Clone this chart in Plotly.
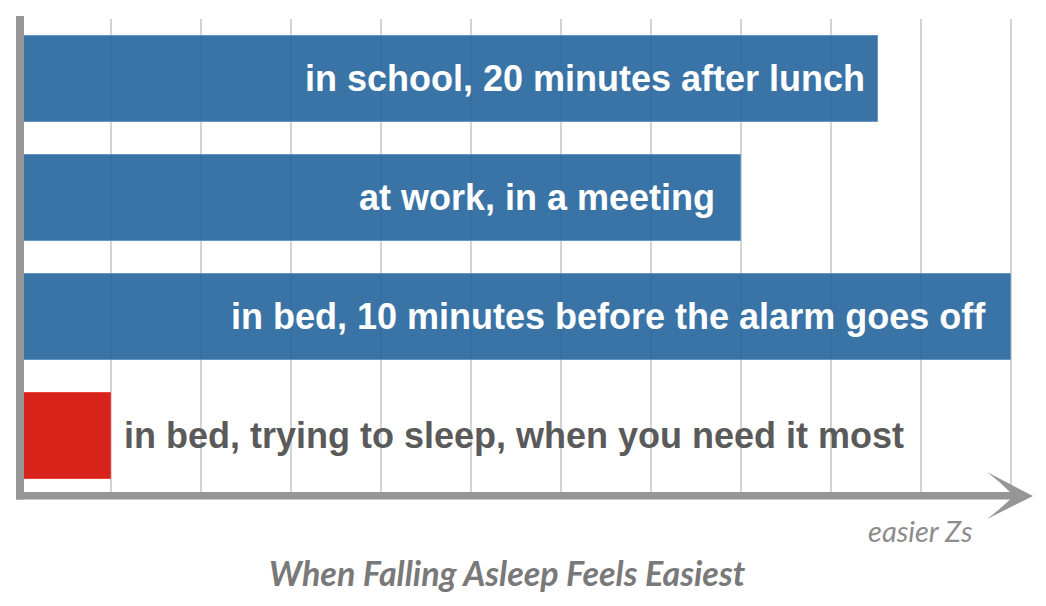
import plotly.graph_objects as go

# ---- data ----
labels = [
    "in school, 20 minutes after lunch",
    "at work, in a meeting",
    "in bed, 10 minutes before the alarm goes off",
    "in bed, trying to sleep, when you need it most",
]
values = [9.53, 8.0, 11.0, 1.0]
title_text = "When Falling Asleep Feels Easiest"
axis_label = "easier Zs"

# ---- styles ----
OFF = 8  # page body margin offset
W, H = 1046 - OFF, 606 - OFF
M_T, M_B = 19 - OFF, 114
PLOT_H = H - M_T - M_B
bar_colors = ["rgba(37,101,156,0.9)"] * 3 + ["rgba(214,28,18,0.97)"]
line_colors = ["rgba(95,145,195,0.9)"] * 3 + ["rgba(235,60,50,0.9)"]
label_pad = [11, 24, 23]
GRAY = "#969696"
FONT_SIZE = 36

ypos = list(range(len(labels)))

fig = go.Figure()
fig.add_trace(go.Bar(
    x=values, y=ypos, orientation="h",
    width=0.72,
    marker=dict(color=bar_colors, line=dict(color=line_colors, width=1)),
    hoverinfo="skip",
))

annotations = []
for i, (lab, v) in enumerate(zip(labels, values)):
    if v > 3:
        annotations.append(dict(
            x=v, y=i, xref="x", yref="y", text=lab, showarrow=False,
            xanchor="right", yanchor="middle", xshift=-label_pad[i], yshift=1,
            font=dict(family="Liberation Sans, Arial", size=FONT_SIZE, color="white", weight="bold"),
        ))
    else:
        annotations.append(dict(
            x=v, y=i, xref="x", yref="y", text=lab, showarrow=False,
            xanchor="left", yanchor="middle", xshift=11, yshift=1,
            font=dict(family="Liberation Sans, Arial", size=FONT_SIZE, color="#5a5a5a", weight="bold"),
        ))


def py(p):
    # reference pixel (from top of window) -> paper y
    return (H - M_B - (p - OFF)) / PLOT_H


def px(p):
    return (p - OFF) / W


annotations.append(dict(
    x=px(920.5), y=py(530), xref="paper", yref="paper", text="<i>" + axis_label + "</i>",
    showarrow=False, xanchor="center", yanchor="middle",
    font=dict(family="Lato", size=29, color="#8c8c8c"),
))
annotations.append(dict(
    x=px(507.5), y=py(572), xref="paper", yref="paper", text="<b><i>" + title_text + "</i></b>",
    showarrow=False, xanchor="center", yanchor="middle",
    font=dict(family="Lato", size=34, color="#797979"),
))

# axis lines (decoration)
shapes = [
    dict(type="rect", xref="paper", yref="paper",
         x0=px(16), x1=px(24), y0=py(499.5), y1=py(16),
         fillcolor=GRAY, line=dict(width=0), layer="above"),
    dict(type="path", xref="paper", yref="paper",
         path=(f"M {px(16)},{py(492)} L {px(1010)},{py(492)} "
               f"Q {px(999)},{py(481)} {px(987)},{py(472)} "
               f"L {px(1033)},{py(496)} L {px(987)},{py(519)} "
               f"Q {px(999)},{py(510)} {px(1010)},{py(499.5)} "
               f"L {px(16)},{py(499.5)} Z"),
         fillcolor=GRAY, line=dict(width=0), layer="above"),
]

# x: value 0 at ref pixel 20.7, 90 px per unit
x0 = -(20.7 - OFF) / 90
x1 = x0 + W / 90
# y: first category centre 60 px below plot top, 119 px per category
y_top = -60 / 119
y_bot = (PLOT_H - 60) / 119

fig.update_layout(
    width=W, height=H,
    margin=dict(l=0, r=0, t=M_T, b=M_B),
    paper_bgcolor="white", plot_bgcolor="white",
    showlegend=False,
    xaxis=dict(range=[x0, x1], dtick=1, tick0=0, showgrid=True,
               gridcolor="#d4d4d4", gridwidth=1.5, zeroline=False,
               showticklabels=False, ticks="", showline=False),
    yaxis=dict(range=[y_bot, y_top], showgrid=False, zeroline=False,
               showticklabels=False, ticks="", showline=False),
    annotations=annotations,
    shapes=shapes,
    bargap=0,
)

fig.write_html("out.html")
